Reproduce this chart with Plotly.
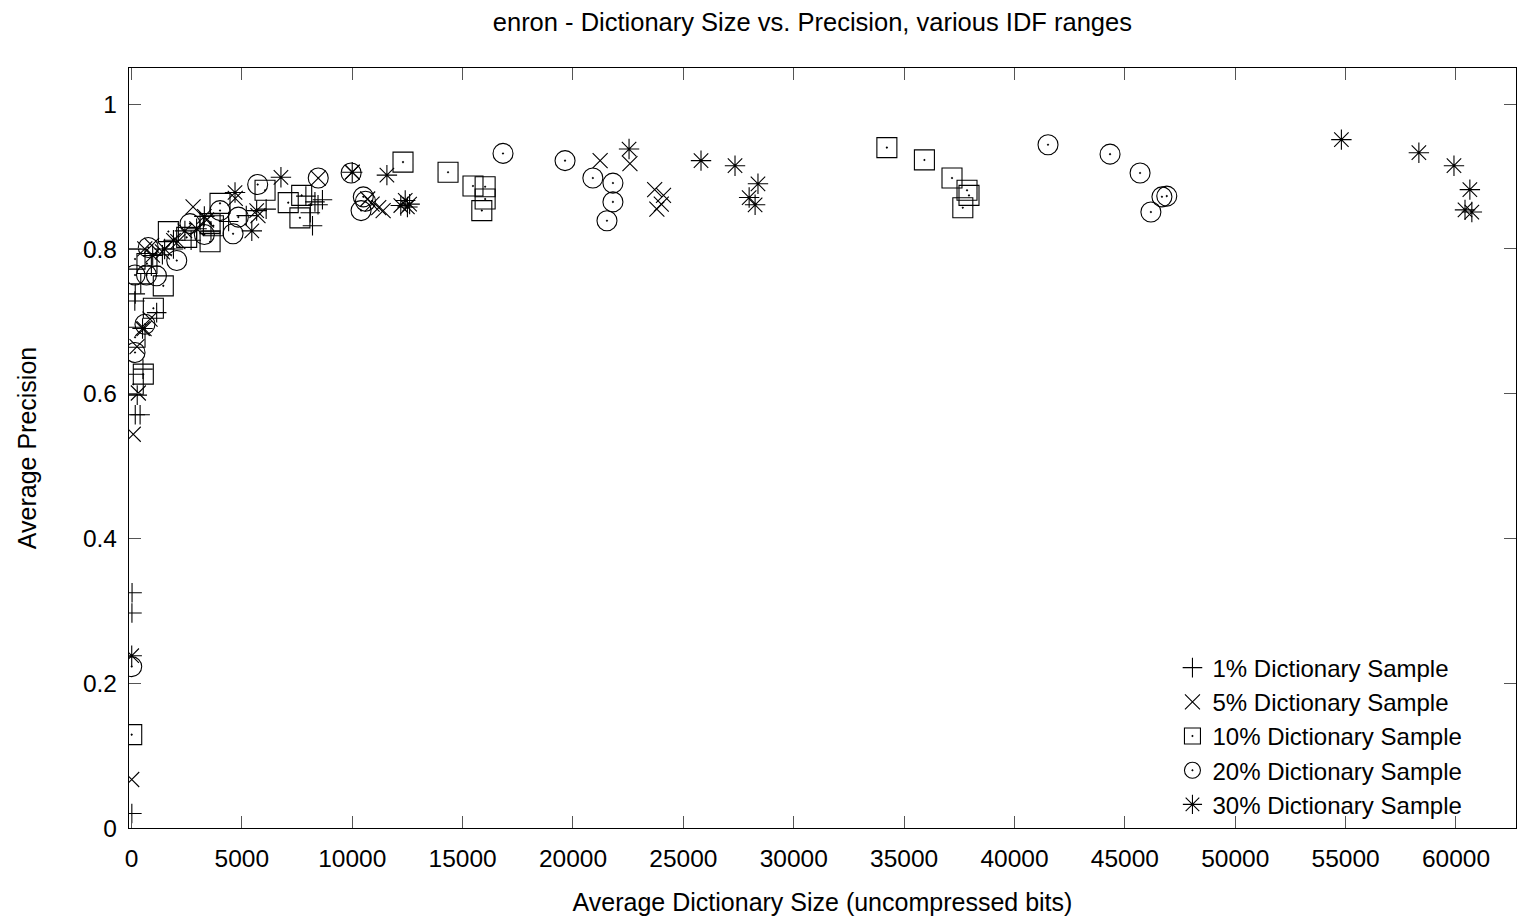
import plotly.graph_objects as go

# ---- data ----
s1_x = [15, 20, 25, 170, 390, 260, 520, 150, 170, 1140, 420, 900, 1400, 1900, 2700, 3600, 4400, 5200, 6100, 7900, 8310, 8650, 8450, 8100, 8200]
s1_y = [0.020, 0.297, 0.325, 0.571, 0.571, 0.598, 0.634, 0.728, 0.738, 0.712, 0.752, 0.776, 0.792, 0.800, 0.812, 0.825, 0.838, 0.846, 0.855, 0.873, 0.865, 0.868, 0.861, 0.850, 0.832]

s5_x = [10, 80, 310, 840, 570, 250, 915, 600, 1400, 2100, 2790, 3400, 5730, 4700, 8460, 10000, 10700, 10900, 11200, 11400, 21230, 22580, 23700, 24100, 23800, 24000]
s5_y = [0.067, 0.544, 0.601, 0.703, 0.690, 0.665, 0.805, 0.800, 0.796, 0.810, 0.858, 0.840, 0.846, 0.870, 0.898, 0.906, 0.869, 0.862, 0.857, 0.853, 0.922, 0.918, 0.882, 0.874, 0.855, 0.862]

s10_x = [10, 80, 535, 160, 990, 1440, 160, 700, 1670, 2500, 3560, 3560, 3710, 4010, 6050, 7100, 7710, 7630, 12300, 14340, 15470, 16020, 16020, 15870, 34220, 35920, 37170, 37850, 37940, 37660]
s10_y = [0.129, 0.613, 0.627, 0.678, 0.718, 0.749, 0.786, 0.780, 0.824, 0.816, 0.810, 0.835, 0.832, 0.863, 0.881, 0.864, 0.874, 0.843, 0.920, 0.906, 0.887, 0.886, 0.869, 0.853, 0.940, 0.923, 0.898, 0.881, 0.874, 0.857]

s20_x = [10, 160, 610, 160, 680, 1130, 760, 2050, 2650, 3300, 4600, 4840, 4010, 5717, 8460, 9950, 10500, 10600, 10400, 16830, 19640, 20900, 21810, 21810, 21540, 41520, 44330, 45690, 46680, 46900, 46180]
s20_y = [0.223, 0.657, 0.696, 0.764, 0.764, 0.763, 0.802, 0.784, 0.835, 0.820, 0.821, 0.844, 0.853, 0.889, 0.898, 0.905, 0.872, 0.866, 0.853, 0.932, 0.922, 0.898, 0.891, 0.865, 0.839, 0.944, 0.931, 0.905, 0.872, 0.873, 0.851]

s30_x = [10, 500, 960, 1500, 1900, 2420, 2950, 3300, 4690, 5450, 5670, 6770, 10000, 11570, 12400, 12600, 12500, 12200, 22540, 25800, 27340, 28380, 27980, 28250, 54810, 58320, 59910, 60630, 60410, 60720]
s30_y = [0.238, 0.690, 0.791, 0.800, 0.812, 0.825, 0.828, 0.845, 0.878, 0.825, 0.853, 0.899, 0.906, 0.902, 0.867, 0.862, 0.858, 0.860, 0.938, 0.922, 0.915, 0.890, 0.871, 0.861, 0.951, 0.933, 0.915, 0.882, 0.854, 0.851]

series_names = ["1% Dictionary Sample", "5% Dictionary Sample", "10% Dictionary Sample",
                "20% Dictionary Sample", "30% Dictionary Sample"]
x_ticks = [0, 5000, 10000, 15000, 20000, 25000, 30000, 35000, 40000, 45000, 50000, 55000, 60000]
y_ticks = [0, 0.2, 0.4, 0.6, 0.8, 1]

FONT = "Liberation Sans, Arial, Helvetica, sans-serif"

series = [
    (s1_x, s1_y, "cross-thin-open", 14),
    (s5_x, s5_y, "x-thin-open", 15),
    (s10_x, s10_y, "square-open-dot", 20),
    (s20_x, s20_y, "circle-open-dot", 20),
    (s30_x, s30_y, "asterisk-open", 17),
]

fig = go.Figure()
for (xs, ys, sym, sz), name in zip(series, series_names):
    fig.add_trace(go.Scatter(
        x=xs, y=ys, mode="markers", name=name,
        marker=dict(symbol=sym, size=sz, color="black",
                    line=dict(width=1.1, color="black")),
    ))

axis_common = dict(
    showline=True, linecolor="black", linewidth=1.3, mirror="ticks",
    ticks="inside", ticklen=12, tickwidth=1, tickcolor="#555555",
    showgrid=False, zeroline=False,
    tickfont=dict(family=FONT, size=24.5, color="black"),
)

fig.update_layout(
    width=1517, height=919,
    margin=dict(l=129, r=1, t=68, b=91),
    paper_bgcolor="white", plot_bgcolor="white",
    font=dict(family=FONT, size=24, color="black"),
    title=dict(text="enron - Dictionary Size vs. Precision, various IDF ranges",
               x=0.5355, xref="container", xanchor="center",
               y=0.976, yref="container", yanchor="middle",
               font=dict(family=FONT, size=25.5, color="black")),
    xaxis=dict(range=[-113, 62720], tickvals=x_ticks, ticktext=[str(v) for v in x_ticks],
               title=dict(text="Average Dictionary Size (uncompressed bits)", standoff=22,
                          font=dict(family=FONT, size=25)),
               ticklabelstandoff=8, **axis_common),
    yaxis=dict(range=[0, 1.05], tickvals=y_ticks, ticktext=["0", "0.2", "0.4", "0.6", "0.8", "1"],
               title=dict(text="Average Precision", standoff=39,
                          font=dict(family=FONT, size=25)),
               ticklabelstandoff=6, **axis_common),
    legend=dict(x=0.965, y=0.002, xanchor="right", yanchor="bottom",
                bgcolor="rgba(0,0,0,0)", borderwidth=0,
                font=dict(family=FONT, size=24, color="black"),
                tracegroupgap=0, itemwidth=30),
    showlegend=True,
)

fig.write_html("out.html", config={"displayModeBar": False},
               post_script="document.body.style.margin='0';")
